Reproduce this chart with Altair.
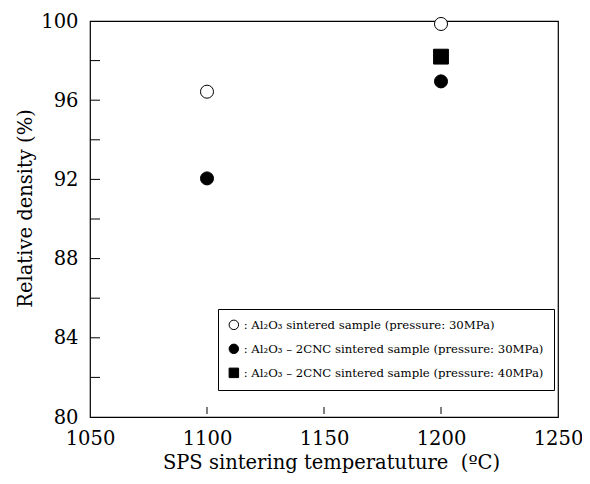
import altair as alt
import pandas as pd

# ---- data ----
series_labels = [
    ": Al\u2082O\u2083 sintered sample (pressure: 30MPa)",
    ": Al\u2082O\u2083 \u2013 2CNC sintered sample (pressure: 30MPa)",
    ": Al\u2082O\u2083 \u2013 2CNC sintered sample (pressure: 40MPa)",
]
temps = [1100, 1200, 1100, 1200, 1200]
densities = [96.43, 99.85, 92.05, 96.95, 98.2]
series_idx = [0, 0, 1, 1, 2]

x_tick_labels = [1050, 1100, 1150, 1200, 1250]
x_tick_marks = [1100, 1150, 1200]
y_tick_labels = [80, 84, 88, 92, 96, 100]
y_tick_marks = [82, 84, 86, 88, 90, 92, 94, 96, 98]

df = pd.DataFrame({
    "temp": temps,
    "density": densities,
    "series": [series_labels[i] for i in series_idx],
})
df_xt = pd.DataFrame({"t": x_tick_marks})
df_yt = pd.DataFrame({"d": y_tick_marks})

W, H = 468, 396
FONT = "DejaVu Serif"

xscale = alt.Scale(domain=[1050, 1250], nice=False, zero=False)
yscale = alt.Scale(domain=[80, 100], nice=False, zero=False)
shape_scale = alt.Scale(domain=series_labels, range=["circle", "circle", "square"])
fill_scale = alt.Scale(domain=series_labels, range=["white", "black", "black"])
stroke_scale = alt.Scale(domain=series_labels, range=["black", "black", "black"])

xaxis = alt.Axis(values=x_tick_labels, format="d", labelFlush=False,
                 title="SPS sintering temperatuture \u00a0(\u00baC)",
                 titleX=241, titlePadding=6)
yaxis = alt.Axis(values=y_tick_labels, format="d", labelFlush=False,
                 title="Relative density (%)", titleY=187, titlePadding=5)


def enc(ch, with_axes):
    kw = dict(
        shape=alt.Shape("series:N", scale=shape_scale, legend=alt.Legend(title=None)),
        fill=alt.Fill("series:N", scale=fill_scale, legend=alt.Legend(title=None)),
        stroke=alt.Stroke("series:N", scale=stroke_scale, legend=alt.Legend(title=None)),
    )
    if with_axes:
        kw["x"] = alt.X("temp:Q", scale=xscale, axis=xaxis)
        kw["y"] = alt.Y("density:Q", scale=yscale, axis=yaxis)
    else:
        kw["x"] = alt.X("temp:Q", scale=xscale)
        kw["y"] = alt.Y("density:Q", scale=yscale)
    return ch.encode(**kw)


base = alt.Chart(df)

circles = enc(base.transform_filter(
    alt.FieldOneOfPredicate(field="series", oneOf=series_labels[:2])
).mark_point(filled=True, strokeWidth=1, size=170, opacity=1), True)

squares = enc(base.transform_filter(
    alt.FieldEqualPredicate(field="series", equal=series_labels[2])
).mark_point(filled=True, strokeWidth=1, size=220, opacity=1), False)

xticks = alt.Chart(df_xt).mark_rule(color="black", strokeWidth=1).encode(
    x=alt.X("t:Q", scale=xscale),
    y=alt.value(H - 3),
    y2=alt.value(H - 10),
)

yticks = alt.Chart(df_yt).mark_rule(color="black", strokeWidth=1).encode(
    y=alt.Y("d:Q", scale=yscale),
    x=alt.value(0),
    x2=alt.value(10),
)

chart = alt.layer(xticks, yticks, circles, squares).properties(
    width=W, height=H,
    autosize=alt.AutoSizeParams(type="none"),
    padding={"left": 82, "top": 13, "right": 24, "bottom": 59},
).configure_view(
    stroke="black", strokeWidth=1.2
).configure_axis(
    grid=False, domain=False, ticks=False,
    labelFont=FONT, labelFontSize=19.5, labelColor="black", labelPadding=12,
    titleFont=FONT, titleFontSize=19.5, titleFontWeight="normal", titleColor="black",
).configure_legend(
    orient="none", legendX=128, legendY=288,
    strokeColor="black", fillColor="white", padding=10, cornerRadius=0,
    labelFont=FONT, labelFontSize=11.7, labelFontWeight="normal", labelColor="black",
    labelLimit=600, labelOffset=4, rowPadding=10,
    symbolSize=90, symbolStrokeColor="black", symbolStrokeWidth=1,
)

chart.save("out.html", embed_options={"renderer": "svg", "actions": False})
